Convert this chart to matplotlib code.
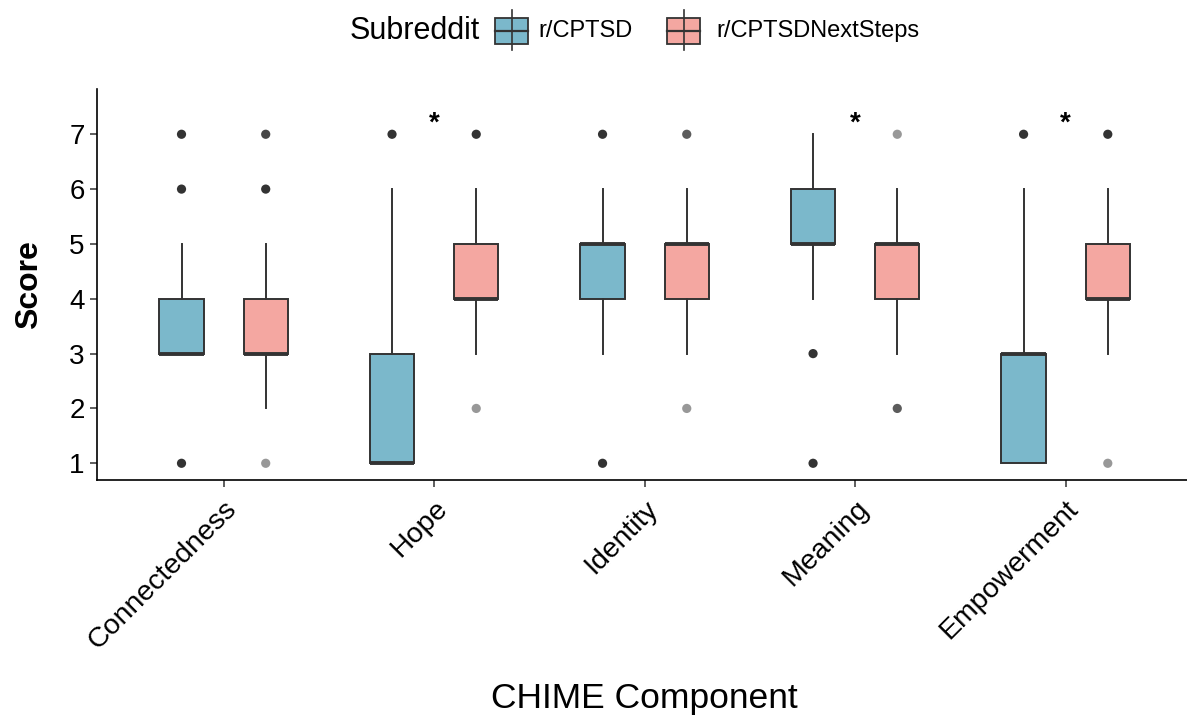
import matplotlib
matplotlib.use("Agg")
import matplotlib.pyplot as plt
from matplotlib.patches import Rectangle
from matplotlib.lines import Line2D

plt.rcParams['font.family'] = ['Liberation Sans', 'DejaVu Sans']

categories = ["Connectedness", "Hope", "Identity", "Meaning", "Empowerment"]
groups = ["r/CPTSD", "r/CPTSDNextSteps"]

# box stats per category: [q1, median, q3, whisker_low, whisker_high]
cptsd_q1 = [3, 1, 4, 5, 1]
cptsd_med = [3, 1, 5, 5, 3]
cptsd_q3 = [4, 3, 5, 6, 3]
cptsd_wlo = [3, 1, 3, 4, 1]
cptsd_whi = [5, 6, 6, 7, 6]
cptsd_fliers = [[7, 6, 1], [7], [7, 1], [3, 1], [7]]
cptsd_flier_alpha = [[1, 1, 1], [1], [1, 1], [1, 1], [1]]

next_q1 = [3, 4, 4, 4, 4]
next_med = [3, 4, 5, 5, 4]
next_q3 = [4, 5, 5, 5, 5]
next_wlo = [2, 3, 3, 3, 3]
next_whi = [5, 6, 6, 6, 6]
next_fliers = [[7, 6, 1], [7, 2], [7, 2], [7, 2], [7, 1]]
next_flier_alpha = [[0.9, 1, 0.5], [1, 0.5], [0.8, 0.5], [0.5, 0.8], [1, 0.5]]

significant = ["Hope", "Meaning", "Empowerment"]
star_y = 7.19

colors = ["#7BB8CB", "#F4A7A1"]
edge = "#333333"

fig = plt.figure(figsize=(11.87, 7.2), dpi=100)
ax = fig.add_axes([97.3 / 1187, 1 - 480 / 720, (1192 - 97.3) / 1187, (480 - 89.3) / 720])

offsets = [-0.2, 0.2]
width = 0.21
series = [
    (cptsd_q1, cptsd_med, cptsd_q3, cptsd_wlo, cptsd_whi, cptsd_fliers, cptsd_flier_alpha),
    (next_q1, next_med, next_q3, next_wlo, next_whi, next_fliers, next_flier_alpha),
]
for gi, (q1, med, q3, wlo, whi, fl, fla) in enumerate(series):
    stats = []
    pos = []
    for ci in range(len(categories)):
        stats.append(dict(q1=q1[ci], med=med[ci], q3=q3[ci], whislo=wlo[ci], whishi=whi[ci], fliers=[]))
        pos.append(ci + 1 + offsets[gi])
    ax.bxp(stats, positions=pos, widths=width, patch_artist=True, showcaps=False,
           showfliers=False,
           boxprops=dict(facecolor=colors[gi], edgecolor=edge, linewidth=1.4),
           medianprops=dict(color=edge, linewidth=2.8, solid_capstyle='butt'),
           whiskerprops=dict(color=edge, linewidth=1.4), manage_ticks=False, zorder=2)
    for ci in range(len(categories)):
        for v, a in zip(fl[ci], fla[ci]):
            ax.scatter([ci + 1 + offsets[gi]], [v], s=44, color="#333333", alpha=a,
                       edgecolors='none', zorder=3)

for c in significant:
    ax.text(categories.index(c) + 1, star_y, "*", ha='center', va='center',
            fontsize=20, fontweight='bold', color='black')

ax.set_xlim(0.4, 5.6)
ax.set_ylim(0.695, 7.82)
ax.set_xticks(range(1, len(categories) + 1))
ax.set_xticklabels(categories, rotation=45, ha='right', va='top', rotation_mode='anchor',
                   fontsize=20.5)
ax.set_yticks(range(1, 8))
ax.tick_params(axis='both', length=5, width=1.1, color='#333333', labelcolor='black')
ax.tick_params(axis='y', labelsize=20, pad=4)
ax.tick_params(axis='x', pad=6)
for s in ['top', 'right']:
    ax.spines[s].set_visible(False)
for s in ['left', 'bottom']:
    ax.spines[s].set_linewidth(1.2)
    ax.spines[s].set_color('black')

ax.set_xlabel("CHIME Component", fontsize=25.5, labelpad=20)
ax.set_ylabel("Score", fontsize=23, fontweight='bold', labelpad=18)

# legend (figure-level)
W, H = 1187, 720
def fx(px):
    return px / W
def fy(py):
    return 1 - py / H

fig.text(fx(350), fy(31), "Subreddit", fontsize=22, ha='left', va='center')
key_x = [495, 667]
label_x = [538, 716]
for gi in range(2):
    x0 = key_x[gi]
    kw = 33
    fig.add_artist(Line2D([fx(x0 + kw / 2)] * 2, [fy(10), fy(50)], color=edge, lw=1.2,
                          transform=fig.transFigure))
    fig.add_artist(Rectangle((fx(x0), fy(44)), fx(kw), 26 / H, facecolor=colors[gi],
                             edgecolor=edge, lw=1.3, transform=fig.transFigure))
    fig.add_artist(Line2D([fx(x0), fx(x0 + kw)], [fy(31)] * 2, color=edge, lw=1.6,
                          transform=fig.transFigure))
    fig.text(fx(label_x[gi]), fy(31), groups[gi], fontsize=17, ha='left', va='center')

fig.savefig("out.png", dpi=100)
